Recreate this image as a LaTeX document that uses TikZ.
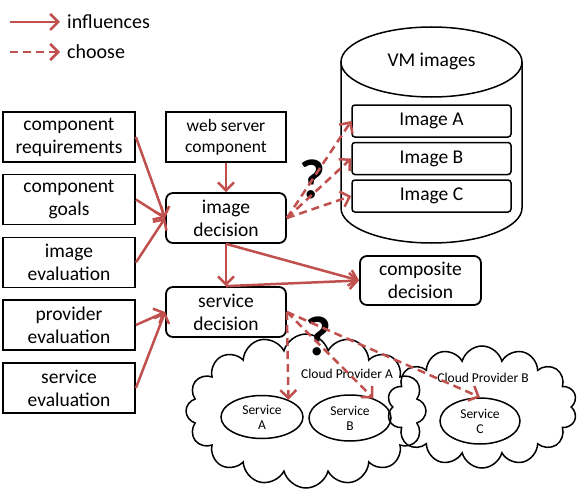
\documentclass[tikz,border=0pt]{standalone}
\usepackage{fontspec}
\setmainfont{Carlito}
\usetikzlibrary{arrows.meta,shapes.geometric,shapes.symbols}
\definecolor{arr}{RGB}{192,80,77}
\begin{document}
\begin{tikzpicture}[x=1pt,y=-1pt,
 box/.style={draw,line width=1.8pt,minimum width=132pt,minimum height=50pt,align=center,inner sep=0pt,font=\fontsize{19.5}{23}\selectfont},
 dec/.style={box,rounded corners=7pt,minimum width=120pt},
 img/.style={draw,line width=1.5pt,rounded corners=3pt,minimum width=159pt,minimum height=32pt,inner sep=0pt,font=\fontsize{19.5}{23}\selectfont},
 svc/.style={draw,ellipse,line width=1.5pt,inner sep=0pt,align=center,font=\fontsize{13.5}{15}\selectfont},
 infl/.style={draw=arr,line width=2.5pt,-{Straight Barb[length=8pt,width=16pt]}},
 choose/.style={infl,dash pattern=on 8pt off 5pt},
 cld/.style={draw,cloud,cloud puffs=15,cloud ignores aspect,line width=1.5pt,inner sep=0pt},
 lbl/.style={font=\fontsize{20}{24}\selectfont,anchor=west,inner sep=0pt},
 q/.style={font=\fontsize{56}{56}\selectfont\bfseries,inner sep=0pt}]
\useasboundingbox (0,0) rectangle (581,495);

% legend
\coordinate (l1s) at (10,22); \coordinate (l1e) at (60,22);
\coordinate (l2s) at (10,52); \coordinate (l2e) at (60,52);
\draw[infl] (l1s) -- (l1e);
\draw[choose] (l2s) -- (l2e);
\node[lbl] (t1) at (67,22) {influences};
\node[lbl] (t2) at (67,52) {choose};

% cylinder
\draw[line width=1.5pt] (341,62) -- (341,208) arc[start angle=180,end angle=360,x radius=90.5pt,y radius=35pt] -- (522,62);
\draw[line width=1.5pt] (431.5,62) ellipse[x radius=90.5pt,y radius=35pt];
\node[font=\fontsize{19.5}{23}\selectfont] (vm) at (431.5,61) {VM images};
\node[img] (imgA) at (431.5,121) {Image A};
\node[img] (imgB) at (431.5,158.5) {Image B};
\node[img] (imgC) at (431.5,196) {Image C};

% boxes
\node[box] (creq) at (69,137) {component\\requirements};
\node[box] (cgoal) at (69,199.5) {component\\goals};
\node[box] (ieval) at (69,262.5) {image\\evaluation};
\node[box] (peval) at (69,325) {provider\\evaluation};
\node[box] (seval) at (69,388) {service\\evaluation};
\node[box,minimum width=120pt,font=\fontsize{17.5}{21}\selectfont] (web) at (226,137) {web server\\component};
\node[dec] (idec) at (226,218) {image\\decision};
\node[dec] (sdec) at (226,312) {service\\decision};
\node[dec,minimum width=121pt,minimum height=49pt] (comp) at (420.5,280.5) {composite\\decision};

% clouds
\node[cld,cloud puffs=16,minimum width=240pt,minimum height=154pt] (cloudA) at (306,411) {};
\node[cld,cloud puffs=14,minimum width=190pt,minimum height=122pt] (cloudB) at (482,407) {};
\node[font=\fontsize{13.5}{15}\selectfont] (cpA) at (347,374) {Cloud Provider A};
\node[font=\fontsize{13.5}{15}\selectfont] (cpB) at (483,378) {Cloud Provider B};
\node[svc,minimum width=82pt,minimum height=43pt] (svcA) at (262,417) {Service\\A};
\node[svc,minimum width=82pt,minimum height=46pt] (svcB) at (350,418) {Service\\B};
\node[svc,minimum width=80pt,minimum height=46pt] (svcC) at (480,421) {Service\\C};

% question marks
\node[q] (q1) at (312,179) {?};
\node[q] (q2) at (318,336) {?};

% influences
\draw[infl] (creq.east) -- (idec.west);
\draw[infl] (cgoal.east) -- (idec.west);
\draw[infl] (ieval.east) -- (idec.west);
\draw[infl] (web.south) -- (idec.north);
\draw[infl] (idec.south) -- (sdec.north);
\draw[infl] (idec.south) -- (comp.west);
\draw[infl] (sdec.north) -- (comp.west);
\draw[infl] (peval.east) -- (sdec.west);
\draw[infl] (seval.east) -- (sdec.west);

% choose
\draw[choose] (idec.east) -- (imgA.west);
\draw[choose] (idec.east) -- (imgB.west);
\draw[choose] (idec.east) -- (imgC.west);
\draw[choose] (sdec.east) -- (svcA.33);
\draw[choose] (sdec.east) -- (svcB.40);
\draw[choose] (sdec.east) -- (svcC.north);
\end{tikzpicture}
\end{document}
